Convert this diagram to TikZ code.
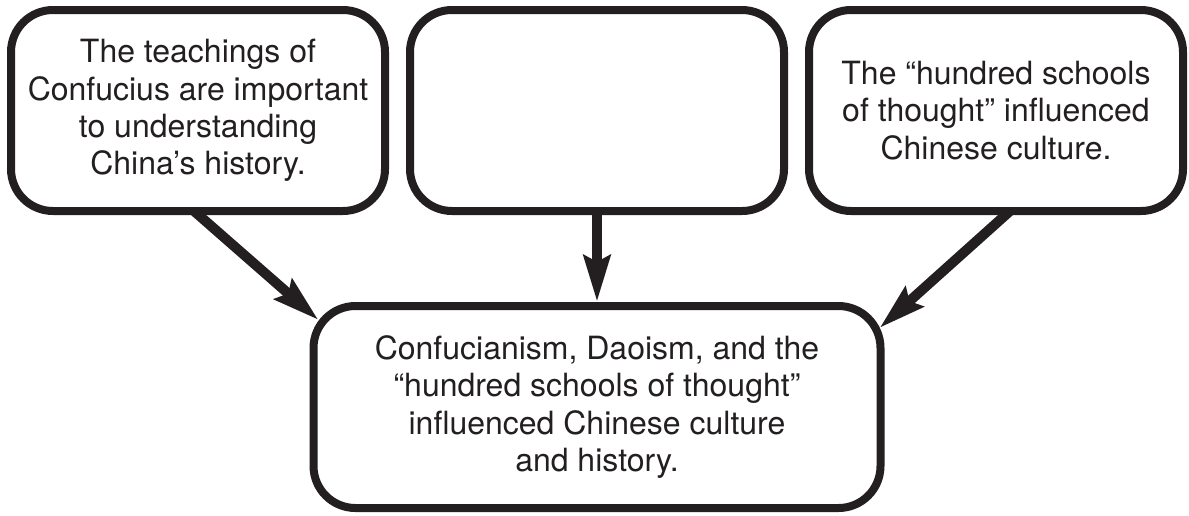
\documentclass[tikz,border=0pt]{standalone}
\usepackage{fontspec}
\setmainfont{TeX Gyre Heros}
\usetikzlibrary{%
  arrows.meta,%
  calc, %
  positioning% wg. " of "
}
\definecolor{ink}{RGB}{35,31,32}

\begin{document}
\begin{tikzpicture}[
    >={Stealth[length=23pt,width=13pt,inset=3pt]},
    line join=round,
    box/.style={rectangle,draw=ink,line width=4pt,fill=white,rounded corners=21pt,
        outer sep=0pt,minimum width=187pt,minimum height=100.5pt,align=center,
        text=ink,font=\fontsize{16}{18.7}\selectfont},
    link/.style={->,draw=ink,line width=5pt},
    node distance=12.5pt
  ]
    \useasboundingbox (0,0) rectangle (594.5pt,-257.5pt);

    \node (blank)   [box] at (298.5pt,-55.25pt) {};
    \node (teach)   [box,left=of blank]  {The teachings of\\Confucius are important\\to understanding\\China’s history.};
    \node (schools) [box,right=of blank] {The “hundred schools\\of thought” influenced\\Chinese culture.};
    \node (result)  [box,below=47.5pt of blank,minimum width=283.5pt,minimum height=101pt]
        {Confucianism, Daoism, and the\\“hundred schools of thought”\\influenced Chinese culture\\and history.};

    \coordinate (teachtip)   at ($(result.north west)+(2.5pt,-7pt)$);
    \coordinate (schoolstip) at ($(result.north east)+(-0.5pt,-11pt)$);

    \draw[link] ($(teach.south)+(-2pt,0)$) -- (teachtip);
    \draw[link,shorten >=2pt] (blank.south) -- (blank.south |- result.north);
    \draw[link] ($(schools.south)+(7pt,0)$) -- (schoolstip);
\end{tikzpicture}
\end{document}
